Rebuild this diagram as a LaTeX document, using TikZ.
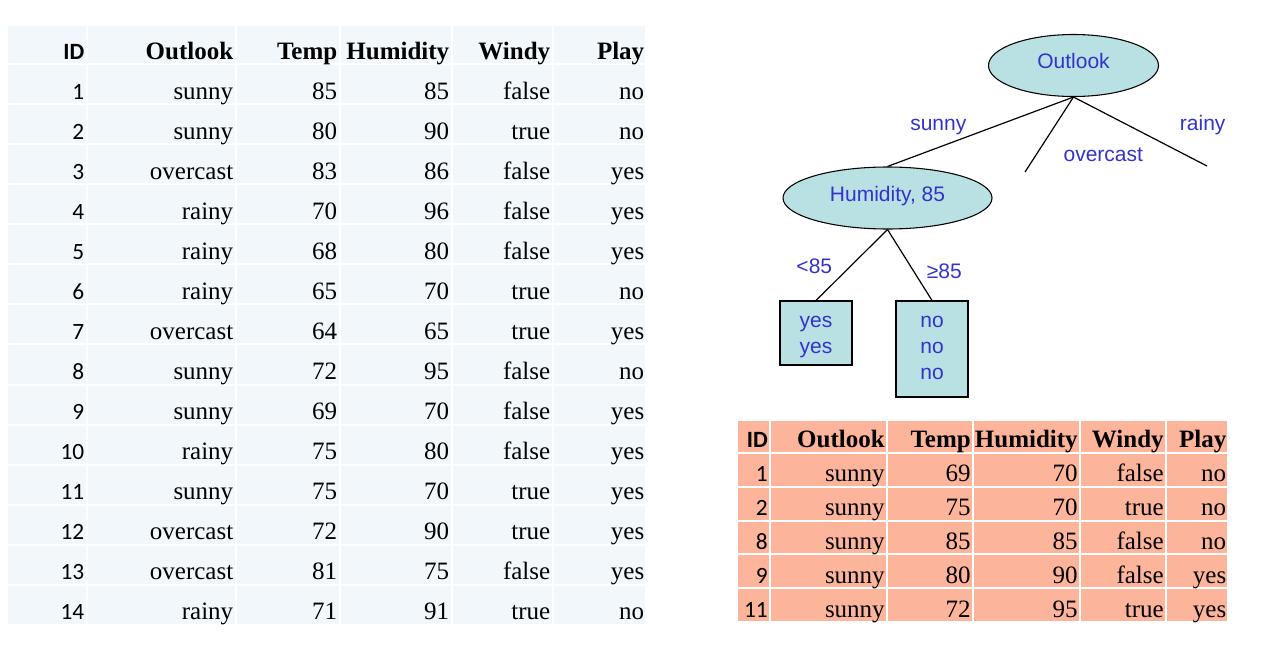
\documentclass[tikz,border=0pt]{standalone}
\usepackage{fontspec}
\setmainfont{Liberation Serif}
\newfontfamily\idfont{Carlito}
\newfontfamily\treefont{Liberation Sans}
\usetikzlibrary{shapes.geometric}
\definecolor{lightcell}{RGB}{241,247,250}
\definecolor{salmoncell}{RGB}{252,181,155}
\definecolor{treefill}{RGB}{185,224,227}
\definecolor{treeblue}{RGB}{51,51,204}
\begin{document}
\begin{tikzpicture}[x=0.75pt,y=-0.75pt,
  celltext/.style={anchor=base east, inner sep=0pt, font=\fontsize{18.75}{20}\selectfont},
  headtext/.style={anchor=base east, inner sep=0pt, font=\fontsize{18.75}{20}\selectfont\bfseries},
  idtext/.style={anchor=base east, inner sep=0pt, font=\idfont\fontsize{17.5}{20}\selectfont},
  idhead/.style={anchor=base east, inner sep=0pt, font=\idfont\fontsize{17.5}{20}\selectfont\bfseries},
  tnode/.style={ellipse, draw=black, line width=0.8pt, fill=treefill, text=treeblue, inner sep=0pt,
    text height=0.73em, text depth=0.21em,
    font=\treefont\fontsize{15.75}{19.5}\selectfont},
  tleaf/.style={rectangle, draw=black, line width=0.8pt, fill=treefill, text=treeblue, inner sep=0pt,
    font=\treefont\fontsize{15.75}{19.5}\selectfont},
  tlabel/.style={anchor=base, text=treeblue, inner sep=0pt, font=\treefont\fontsize{15.75}{19.5}\selectfont},
  edge/.style={draw=black, line width=0.9pt}]
\useasboundingbox (0,0) rectangle (1268,646);
\fill[white] (0,0) rectangle (1268,646);

% ---------- left table ----------
\foreach \xl/\xr in {7/87,87/236,236/340,340/452,452/553,553/646}
  \fill[lightcell] (\xl+1,26) rectangle (\xr-1,63);
\node[idhead] (LH-1) at (84.5,59) {ID};
\node[headtext] (LH-2) at (233.5,59) {Outlook};
\node[headtext] (LH-3) at (337.5,59) {Temp};
\node[headtext] (LH-4) at (449.5,59) {Humidity};
\node[headtext] (LH-5) at (550.5,59) {Windy};
\node[headtext] (LH-6) at (644.5,59) {Play};
\foreach \r/\b/\c/\d/\e/\f in {
  1/sunny/85/85/false/no,
  2/sunny/80/90/true/no,
  3/overcast/83/86/false/yes,
  4/rainy/70/96/false/yes,
  5/rainy/68/80/false/yes,
  6/rainy/65/70/true/no,
  7/overcast/64/65/true/yes,
  8/sunny/72/95/false/no,
  9/sunny/69/70/false/yes,
  10/rainy/75/80/false/yes,
  11/sunny/75/70/true/yes,
  12/overcast/72/90/true/yes,
  13/overcast/81/75/false/yes,
  14/rainy/71/91/true/no}{
  \pgfmathsetmacro\yt{64+(\r-1)*40.07}
  \pgfmathsetmacro\yb{\yt+40.07}
  \pgfmathsetmacro\ybase{\yb-5}
  \foreach \xl/\xr in {7/87,87/236,236/340,340/452,452/553,553/646}
    \fill[lightcell] (\xl+1,\yt+1) rectangle (\xr-1,\yb-1);
  \node[idtext] (L\r-1) at (84.5,\ybase) {\r};
  \node[celltext] (L\r-2) at (233.5,\ybase) {\b};
  \node[celltext] (L\r-3) at (337.5,\ybase) {\c};
  \node[celltext] (L\r-4) at (449.5,\ybase) {\d};
  \node[celltext] (L\r-5) at (550.5,\ybase) {\e};
  \node[celltext] (L\r-6) at (644.5,\ybase) {\f};
}

% ---------- right table ----------
\foreach \xl/\xr in {737/770,770/887,887/973,973/1080,1080/1166,1166/1228}
  \fill[salmoncell] (\xl+1,421) rectangle (\xr-1,452);
\node[idhead] (RH-1) at (768,447) {ID};
\node[headtext] (RH-2) at (885,447) {Outlook};
\node[headtext] (RH-3) at (971,447) {Temp};
\node[headtext] (RH-4) at (1078,447) {Humidity};
\node[headtext] (RH-5) at (1164,447) {Windy};
\node[headtext] (RH-6) at (1226.5,447) {Play};
\foreach \r/\a/\b/\c/\d/\e/\f in {
  1/1/sunny/69/70/false/no,
  2/2/sunny/75/70/true/no,
  3/8/sunny/85/85/false/no,
  4/9/sunny/80/90/false/yes,
  5/11/sunny/72/95/true/yes}{
  \pgfmathsetmacro\yt{453+(\r-1)*33.8}
  \pgfmathsetmacro\yb{\yt+33.8}
  \pgfmathsetmacro\ybase{\yb-5}
  \foreach \xl/\xr in {737/770,770/887,887/973,973/1080,1080/1166,1166/1228}
    \fill[salmoncell] (\xl+1,\yt+1) rectangle (\xr-1,\yb-1);
  \node[idtext] (R\r-1) at (768,\ybase) {\a};
  \node[celltext] (R\r-2) at (885,\ybase) {\b};
  \node[celltext] (R\r-3) at (971,\ybase) {\c};
  \node[celltext] (R\r-4) at (1078,\ybase) {\d};
  \node[celltext] (R\r-5) at (1164,\ybase) {\e};
  \node[celltext] (R\r-6) at (1226.5,\ybase) {\f};
}

% ---------- tree ----------
\node[tnode, minimum width=170*0.75pt, minimum height=62*0.75pt] (outlook) at (1073.5,65.5) {Outlook};
\node[tnode, minimum width=209*0.75pt, minimum height=62*0.75pt] (hum) at (887.5,198) {Humidity, 85};
\node[tleaf] (yesbox) at (816,333)
  {\begin{minipage}[c][48pt][t]{54pt}\centering\rule{0pt}{19.5pt}yes\\yes\end{minipage}};
\node[tleaf] (nobox) at (932,349)
  {\begin{minipage}[c][72pt][t]{54pt}\centering\rule{0pt}{19.5pt}no\\no\\no\end{minipage}};
\coordinate (oc) at (1025,172);
\coordinate (rn) at (1207,166);
\draw[edge] (outlook.south) -- (hum.north);
\draw[edge] (outlook.south) -- (oc);
\draw[edge] (outlook.south) -- (rn);
\draw[edge] (hum.south) -- (yesbox.north);
\draw[edge] (hum.south) -- (nobox.north);
\node[tlabel] (lsunny) at (938.3,130) {sunny};
\node[tlabel] (lover) at (1103.3,161.5) {overcast};
\node[tlabel] (lrainy) at (1202.7,130) {rainy};
\node[tlabel] (llt) at (814.3,273.3) {<85};
\node[tlabel] (lge) at (944.3,278.3) {≥85};
\end{tikzpicture}
\end{document}
